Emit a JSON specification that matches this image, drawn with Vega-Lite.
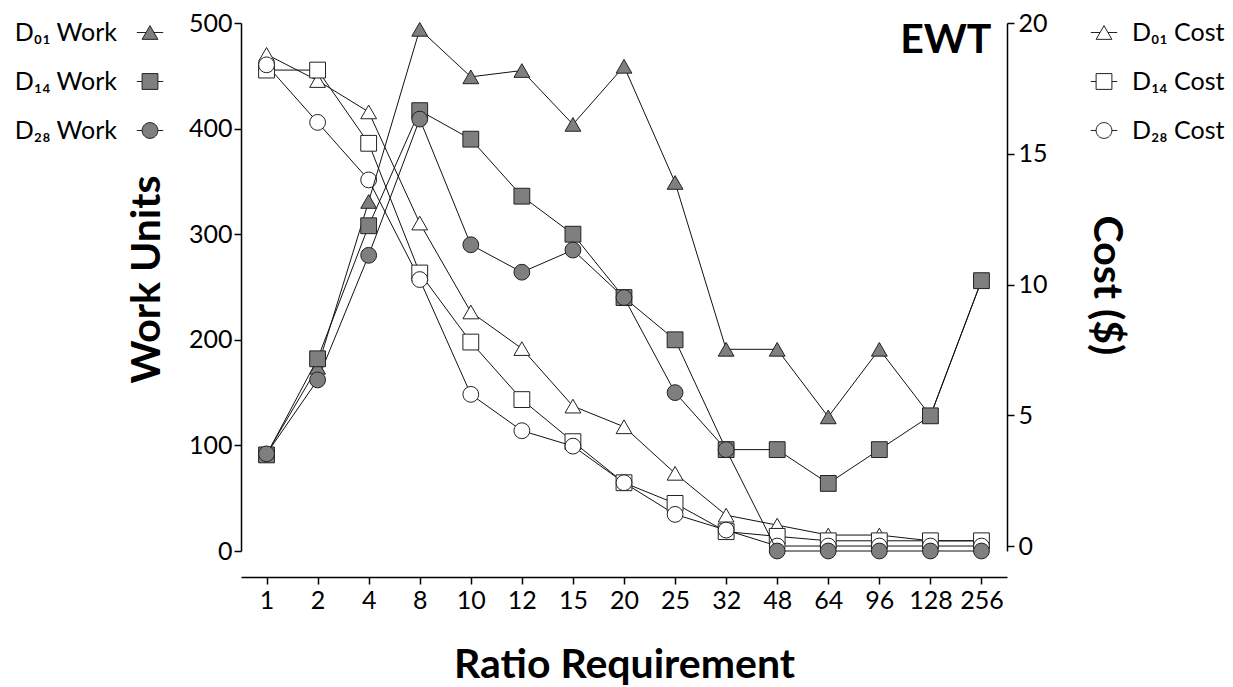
{
  "$schema": "https://vega.github.io/schema/vega-lite/v6.json",
  "width": 766,
  "height": 528,
  "autosize": "none",
  "padding": {"left": 241, "top": 23, "right": 226, "bottom": 136},
  "background": "white",
  "config": {
    "font": "Lato",
    "view": {"stroke": null},
    "axis": {
      "grid": false,
      "domainColor": "#000",
      "domainWidth": 1.5,
      "tickColor": "#000",
      "tickWidth": 1.5,
      "tickSize": 7,
      "labelFont": "Lato",
      "labelFontSize": 25,
      "labelColor": "#000",
      "titleFont": "Lato",
      "titleFontSize": 41,
      "titleFontWeight": "bold",
      "titleColor": "#000"
    },
    "legend": {
      "labelFont": "Lato",
      "labelFontSize": 25,
      "labelColor": "#000",
      "padding": 0,
      "symbolSize": 250,
      "symbolStrokeWidth": 1,
      "rowPadding": 23
    }
  },
  "data": {
    "values": [
      {"ratio": 1, "series": "D01", "measure": "Work", "value": 92},
      {"ratio": 2, "series": "D01", "measure": "Work", "value": 174},
      {"ratio": 4, "series": "D01", "measure": "Work", "value": 331},
      {"ratio": 8, "series": "D01", "measure": "Work", "value": 494},
      {"ratio": 10, "series": "D01", "measure": "Work", "value": 449},
      {"ratio": 12, "series": "D01", "measure": "Work", "value": 455},
      {"ratio": 15, "series": "D01", "measure": "Work", "value": 404},
      {"ratio": 20, "series": "D01", "measure": "Work", "value": 459},
      {"ratio": 25, "series": "D01", "measure": "Work", "value": 349},
      {"ratio": 32, "series": "D01", "measure": "Work", "value": 191},
      {"ratio": 48, "series": "D01", "measure": "Work", "value": 191},
      {"ratio": 64, "series": "D01", "measure": "Work", "value": 127},
      {"ratio": 96, "series": "D01", "measure": "Work", "value": 191},
      {"ratio": 128, "series": "D01", "measure": "Work", "value": 128},
      {"ratio": 256, "series": "D01", "measure": "Work", "value": 256},

      {"ratio": 1, "series": "D14", "measure": "Work", "value": 91},
      {"ratio": 2, "series": "D14", "measure": "Work", "value": 182},
      {"ratio": 4, "series": "D14", "measure": "Work", "value": 308},
      {"ratio": 8, "series": "D14", "measure": "Work", "value": 417},
      {"ratio": 10, "series": "D14", "measure": "Work", "value": 390},
      {"ratio": 12, "series": "D14", "measure": "Work", "value": 336},
      {"ratio": 15, "series": "D14", "measure": "Work", "value": 300},
      {"ratio": 20, "series": "D14", "measure": "Work", "value": 240},
      {"ratio": 25, "series": "D14", "measure": "Work", "value": 200},
      {"ratio": 32, "series": "D14", "measure": "Work", "value": 96},
      {"ratio": 48, "series": "D14", "measure": "Work", "value": 96},
      {"ratio": 64, "series": "D14", "measure": "Work", "value": 64},
      {"ratio": 96, "series": "D14", "measure": "Work", "value": 96},
      {"ratio": 128, "series": "D14", "measure": "Work", "value": 128},
      {"ratio": 256, "series": "D14", "measure": "Work", "value": 256},

      {"ratio": 1, "series": "D28", "measure": "Work", "value": 92},
      {"ratio": 2, "series": "D28", "measure": "Work", "value": 162},
      {"ratio": 4, "series": "D28", "measure": "Work", "value": 280},
      {"ratio": 8, "series": "D28", "measure": "Work", "value": 409},
      {"ratio": 10, "series": "D28", "measure": "Work", "value": 290},
      {"ratio": 12, "series": "D28", "measure": "Work", "value": 264},
      {"ratio": 15, "series": "D28", "measure": "Work", "value": 285},
      {"ratio": 20, "series": "D28", "measure": "Work", "value": 240},
      {"ratio": 25, "series": "D28", "measure": "Work", "value": 150},
      {"ratio": 32, "series": "D28", "measure": "Work", "value": 96},
      {"ratio": 48, "series": "D28", "measure": "Work", "value": 0},
      {"ratio": 64, "series": "D28", "measure": "Work", "value": 0},
      {"ratio": 96, "series": "D28", "measure": "Work", "value": 0},
      {"ratio": 128, "series": "D28", "measure": "Work", "value": 0},
      {"ratio": 256, "series": "D28", "measure": "Work", "value": 0},

      {"ratio": 1, "series": "D01", "measure": "Cost", "value": 18.8},
      {"ratio": 2, "series": "D01", "measure": "Cost", "value": 17.8},
      {"ratio": 4, "series": "D01", "measure": "Cost", "value": 16.6},
      {"ratio": 8, "series": "D01", "measure": "Cost", "value": 12.35},
      {"ratio": 10, "series": "D01", "measure": "Cost", "value": 8.95},
      {"ratio": 12, "series": "D01", "measure": "Cost", "value": 7.55},
      {"ratio": 15, "series": "D01", "measure": "Cost", "value": 5.35},
      {"ratio": 20, "series": "D01", "measure": "Cost", "value": 4.56},
      {"ratio": 25, "series": "D01", "measure": "Cost", "value": 2.78},
      {"ratio": 32, "series": "D01", "measure": "Cost", "value": 1.18},
      {"ratio": 48, "series": "D01", "measure": "Cost", "value": 0.8},
      {"ratio": 64, "series": "D01", "measure": "Cost", "value": 0.42},
      {"ratio": 96, "series": "D01", "measure": "Cost", "value": 0.42},
      {"ratio": 128, "series": "D01", "measure": "Cost", "value": 0.2},
      {"ratio": 256, "series": "D01", "measure": "Cost", "value": 0.2},

      {"ratio": 1, "series": "D14", "measure": "Cost", "value": 18.2},
      {"ratio": 2, "series": "D14", "measure": "Cost", "value": 18.2},
      {"ratio": 4, "series": "D14", "measure": "Cost", "value": 15.4},
      {"ratio": 8, "series": "D14", "measure": "Cost", "value": 10.44},
      {"ratio": 10, "series": "D14", "measure": "Cost", "value": 7.8},
      {"ratio": 12, "series": "D14", "measure": "Cost", "value": 5.6},
      {"ratio": 15, "series": "D14", "measure": "Cost", "value": 3.99},
      {"ratio": 20, "series": "D14", "measure": "Cost", "value": 2.42},
      {"ratio": 25, "series": "D14", "measure": "Cost", "value": 1.63},
      {"ratio": 32, "series": "D14", "measure": "Cost", "value": 0.55},
      {"ratio": 48, "series": "D14", "measure": "Cost", "value": 0.37},
      {"ratio": 64, "series": "D14", "measure": "Cost", "value": 0.2},
      {"ratio": 96, "series": "D14", "measure": "Cost", "value": 0.2},
      {"ratio": 128, "series": "D14", "measure": "Cost", "value": 0.2},
      {"ratio": 256, "series": "D14", "measure": "Cost", "value": 0.2},

      {"ratio": 1, "series": "D28", "measure": "Cost", "value": 18.4},
      {"ratio": 2, "series": "D28", "measure": "Cost", "value": 16.2},
      {"ratio": 4, "series": "D28", "measure": "Cost", "value": 14.0},
      {"ratio": 8, "series": "D28", "measure": "Cost", "value": 10.19},
      {"ratio": 10, "series": "D28", "measure": "Cost", "value": 5.8},
      {"ratio": 12, "series": "D28", "measure": "Cost", "value": 4.41},
      {"ratio": 15, "series": "D28", "measure": "Cost", "value": 3.82},
      {"ratio": 20, "series": "D28", "measure": "Cost", "value": 2.42},
      {"ratio": 25, "series": "D28", "measure": "Cost", "value": 1.21},
      {"ratio": 32, "series": "D28", "measure": "Cost", "value": 0.61},
      {"ratio": 48, "series": "D28", "measure": "Cost", "value": 0},
      {"ratio": 64, "series": "D28", "measure": "Cost", "value": 0},
      {"ratio": 96, "series": "D28", "measure": "Cost", "value": 0},
      {"ratio": 128, "series": "D28", "measure": "Cost", "value": 0},
      {"ratio": 256, "series": "D28", "measure": "Cost", "value": 0}
    ]
  },
  "encoding": {
    "x": {
      "field": "ratio",
      "type": "ordinal",
      "scale": {"type": "point", "padding": 0.5},
      "axis": {
        "title": "Ratio Requirement",
        "labelAngle": 0,
        "offset": 26,
        "labelPadding": 4,
        "titleBaseline": "alphabetic",
        "titleY": 100
      }
    }
  },
  "layer": [
    {
      "transform": [{"filter": "datum.measure == 'Cost'"}],
      "encoding": {
        "y": {
          "field": "value",
          "type": "quantitative",
          "scale": {"domain": [-0.19, 20], "nice": false, "zero": false},
          "axis": {
            "orient": "right",
            "title": "Cost ($)",
            "values": [0, 5, 10, 15, 20],
            "labelPadding": 4,
            "titleAngle": 90,
            "titleBaseline": "alphabetic",
            "titleAlign": "center",
            "titleX": 86,
            "titleY": 262
          }
        }
      },
      "layer": [
        {
          "mark": {"type": "line", "color": "#111", "strokeWidth": 1},
          "encoding": {"detail": {"field": "series"}}
        },
        {
          "mark": {"type": "point", "filled": true, "fill": "#ffffff", "stroke": "#222", "strokeWidth": 1, "size": 250, "opacity": 1},
          "encoding": {
            "shape": {
              "field": "series",
              "type": "nominal",
              "scale": {"range": ["triangle-up", "square", "circle"]},
              "legend": null
            }
          }
        },
        {
          "description": "Legend key: each series' marker with its line stubs",
          "mark": {"type": "point", "filled": true, "fill": "#ffffff", "stroke": "#222", "strokeWidth": 1, "size": 0, "opacity": 1},
          "encoding": {
            "shape": {
              "field": "series",
              "type": "nominal",
              "scale": {
                "domain": ["D01", "D14", "D28"],
                "range": [
                  "M-1.67,0H-0.5M0.5,0H1.67M0,-0.866L1,0.866L-1,0.866Z",
                  "M-1.67,0H-1M1,0H1.67M-1,-1H1V1H-1Z",
                  "M-1.67,0H-1M1,0H1.67M-1,0A1,1,0,1,1,1,0A1,1,0,1,1,-1,0Z"
                ]
              },
              "legend": {
                "title": null,
                "orient": "none",
                "legendX": 850.5,
                "legendY": -3,
                "labelAlign": "left",
                "labelOffset": 15.5,
                "symbolSize": 250,
                "labelExpr": "datum.label == 'D01' ? 'D₀₁ Cost' : datum.label == 'D14' ? 'D₁₄ Cost' : 'D₂₈ Cost'",
                "encode": {
                  "symbols": {
                    "fill": {"value": "#ffffff"},
                    "stroke": {"value": "#222"},
                    "strokeWidth": {"value": 1}
                  }
                }
              }
            }
          }
        }
      ],
      "resolve": {"scale": {"shape": "independent"}}
    },
    {
      "transform": [{"filter": "datum.measure == 'Work'"}],
      "encoding": {
        "y": {
          "field": "value",
          "type": "quantitative",
          "scale": {"domain": [0, 500], "nice": false},
          "axis": {
            "orient": "left",
            "title": "Work Units",
            "values": [0, 100, 200, 300, 400, 500],
            "labelPadding": 2,
            "titleAngle": 270,
            "titleBaseline": "alphabetic",
            "titleAlign": "center",
            "titleX": -82,
            "titleY": 256
          }
        }
      },
      "layer": [
        {
          "mark": {"type": "line", "color": "#111", "strokeWidth": 1},
          "encoding": {"detail": {"field": "series"}}
        },
        {
          "mark": {"type": "point", "filled": true, "fill": "#7f7f7f", "stroke": "#222", "strokeWidth": 1, "size": 250, "opacity": 1},
          "encoding": {
            "shape": {
              "field": "series",
              "type": "nominal",
              "scale": {"range": ["triangle-up", "square", "circle"]},
              "legend": null
            }
          }
        },
        {
          "description": "Legend key: each series' marker with its line stubs",
          "mark": {"type": "point", "filled": true, "fill": "#7f7f7f", "stroke": "#222", "strokeWidth": 1, "size": 0, "opacity": 1},
          "encoding": {
            "shape": {
              "field": "series",
              "type": "nominal",
              "scale": {
                "domain": ["D01", "D14", "D28"],
                "range": [
                  "M-1.67,0H-0.5M0.5,0H1.67M0,-0.866L1,0.866L-1,0.866Z",
                  "M-1.67,0H-1M1,0H1.67M-1,-1H1V1H-1Z",
                  "M-1.67,0H-1M1,0H1.67M-1,0A1,1,0,1,1,1,0A1,1,0,1,1,-1,0Z"
                ]
              },
              "legend": {
                "title": null,
                "orient": "none",
                "legendX": -103.5,
                "legendY": -3,
                "labelAlign": "right",
                "labelOffset": -45.5,
                "symbolSize": 250,
                "labelExpr": "datum.label == 'D01' ? 'D₀₁ Work' : datum.label == 'D14' ? 'D₁₄ Work' : 'D₂₈ Work'",
                "encode": {
                  "symbols": {
                    "fill": {"value": "#7f7f7f"},
                    "stroke": {"value": "#222"},
                    "strokeWidth": {"value": 1}
                  }
                }
              }
            }
          }
        }
      ],
      "resolve": {"scale": {"shape": "independent"}}
    },
    {
      "data": {"values": [{"label": "EWT"}]},
      "mark": {"type": "text", "font": "Lato", "fontSize": 41, "fontWeight": "bold", "color": "#000", "align": "right", "baseline": "alphabetic", "dx": 10, "dy": 30},
      "encoding": {
        "x": {"datum": 256, "type": "ordinal"},
        "y": {"datum": 500, "type": "quantitative", "scale": {"domain": [0, 500], "nice": false}, "axis": null},
        "text": {"field": "label"}
      }
    }
  ],
  "resolve": {
    "scale": {"y": "independent", "shape": "independent"}
  }
}
